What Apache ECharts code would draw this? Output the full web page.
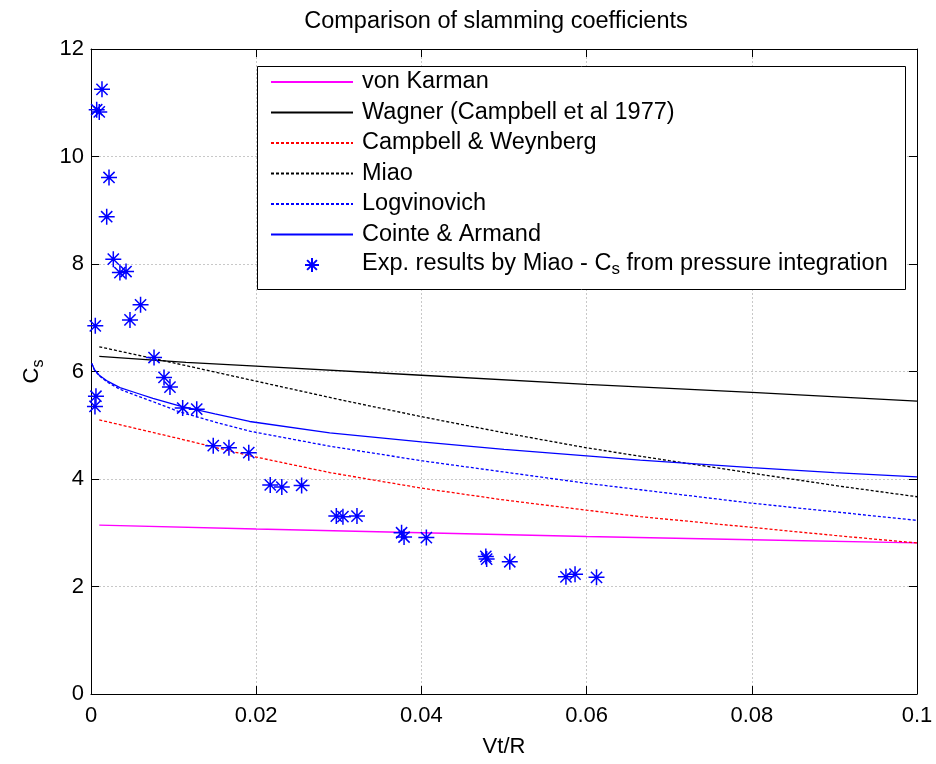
<!DOCTYPE html>
<html>
<head>
<meta charset="utf-8">
<script src="https://cdn.jsdelivr.net/npm/echarts@6/dist/echarts.min.js"></script>
<style>
html,body{margin:0;padding:0;background:#fff;}
#chart{width:936px;height:764px;}
</style>
</head>
<body>
<div id="chart"></div>
<script>
// ---- data ----
var titleText = 'Comparison of slamming coefficients';
var xTicks = [0, 0.02, 0.04, 0.06, 0.08, 0.1];
var yTicks = [0, 2, 4, 6, 8, 10, 12];

var karmanX = [0.001, 0.02, 0.04, 0.06, 0.08, 0.1];
var karmanY = [3.14, 3.07, 3.00, 2.93, 2.87, 2.81];

var wagnerX = [0.001, 0.0115, 0.02, 0.04, 0.06, 0.08, 0.1];
var wagnerY = [6.28, 6.17, 6.10, 5.93, 5.76, 5.61, 5.45];

var cwX = [0.001, 0.0107, 0.0193, 0.0289, 0.04, 0.05, 0.06, 0.0665, 0.08, 0.09, 0.1];
var cwY = [5.10, 4.75, 4.43, 4.12, 3.83, 3.61, 3.42, 3.30, 3.10, 2.95, 2.81];

var miaoX = [0.001, 0.01, 0.02, 0.03, 0.04, 0.05, 0.06, 0.07, 0.08, 0.09, 0.1];
var miaoY = [6.46, 6.16, 5.82, 5.48, 5.16, 4.86, 4.58, 4.34, 4.11, 3.88, 3.67];

var logvX = [0.0001, 0.0004, 0.001, 0.002, 0.0035, 0.0055, 0.0075, 0.0107, 0.015, 0.0192, 0.0289, 0.04, 0.05, 0.06, 0.0665, 0.08, 0.09, 0.1];
var logvY = [6.15, 6.03, 5.92, 5.80, 5.67, 5.55, 5.44, 5.25, 5.06, 4.89, 4.61, 4.34, 4.13, 3.92, 3.80, 3.55, 3.39, 3.23];

var cointeX = [0.0001, 0.0004, 0.001, 0.002, 0.0035, 0.0055, 0.0075, 0.0107, 0.015, 0.0192, 0.0289, 0.04, 0.05, 0.06, 0.0665, 0.08, 0.09, 0.1];
var cointeY = [6.15, 6.04, 5.93, 5.82, 5.70, 5.60, 5.50, 5.36, 5.21, 5.07, 4.86, 4.69, 4.55, 4.43, 4.35, 4.21, 4.12, 4.04];

var expX = [0.00069, 0.0010, 0.00133, 0.00218, 0.0019, 0.0027, 0.0035, 0.00424, 0.00052, 0.00472, 0.0060,
            0.00763, 0.00884, 0.00956, 0.0006, 0.00048, 0.0111, 0.0128, 0.0148, 0.0167, 0.0191,
            0.0217, 0.0231, 0.0255, 0.0297, 0.0305, 0.0322, 0.0376, 0.0379, 0.0406,
            0.0478, 0.0479, 0.0507, 0.0575, 0.0586, 0.0612];
var expY = [10.87, 10.83, 11.25, 9.61, 8.88, 8.09, 7.84, 7.86, 6.85, 6.96, 7.24,
            6.26, 5.89, 5.71, 5.54, 5.35, 5.32, 5.30, 4.62, 4.58, 4.49,
            3.89, 3.85, 3.88, 3.31, 3.30, 3.31, 3.00, 2.92, 2.91,
            2.56, 2.51, 2.46, 2.18, 2.23, 2.17];

var names = ['von Karman', 'Wagner (Campbell et al 1977)', 'Campbell & Weynberg', 'Miao',
             'Logvinovich', 'Cointe & Armand', 'Exp. results by Miao - Cs from pressure integration'];

function pairs(xs, ys) { return xs.map(function (x, i) { return [x, ys[i]]; }); }

var FONT = 'Liberation Sans, Arial, Helvetica, sans-serif';
var AX = 22;   // axis text size
var TX = 23.5; // title / legend text size
var star = 'path://M0,10L20,10M10,0L10,20M3,3L17,17M3,17L17,3';

var chart = echarts.init(document.getElementById('chart'), null, {renderer: 'canvas'});

function lineSeries(name, xs, ys, color, dashed) {
  return {
    name: name, type: 'line', xAxisIndex: 0, yAxisIndex: 0,
    data: pairs(xs, ys), smooth: false,
    showSymbol: false, symbol: 'none', animation: false,
    lineStyle: {color: color, width: 1.3, type: dashed ? [3, 2] : 'solid'},
    itemStyle: {color: color}, z: 3
  };
}

var commonAxis = {
  axisLine: {show: true, onZero: false, lineStyle: {color: '#000', width: 1}},
  axisTick: {show: true, inside: true, length: 8, lineStyle: {color: '#000'}},
};

var option = {
  backgroundColor: '#fff',
  animation: false,
  title: {
    text: titleText, left: 491, top: 5, textAlign: 'center',
    textStyle: {fontFamily: FONT, fontSize: TX, fontWeight: 'normal', color: '#000'}
  },
  grid: {left: 91, right: 19, top: 49, bottom: 70, containLabel: false},
  xAxis: [
    Object.assign({}, commonAxis, {
      type: 'value', min: 0, max: 0.1, interval: 0.02, position: 'bottom',
      name: 'Vt/R', nameLocation: 'middle', nameGap: 42,
      nameTextStyle: {fontFamily: FONT, fontSize: AX, color: '#000'},
      axisLabel: {fontFamily: FONT, fontSize: AX, color: '#000', margin: 11,
        formatter: function (v) { return String(+v.toFixed(2)); }},
      splitLine: {show: true, lineStyle: {color: '#c8c8c8', type: [2, 2], width: 1}}
    }),
    Object.assign({}, commonAxis, {
      type: 'value', min: 0, max: 0.1, interval: 0.02, position: 'top',
      axisLabel: {show: false}, splitLine: {show: false}
    })
  ],
  yAxis: [
    Object.assign({}, commonAxis, {
      type: 'value', min: 0, max: 12, interval: 2, position: 'left',
      name: '{c|C}{s|s}', nameLocation: 'middle', nameGap: 44, nameRotate: 90,
      nameTextStyle: {fontFamily: FONT, fontSize: AX, color: '#000',
        rich: {c: {fontFamily: FONT, fontSize: AX, color: '#000', lineHeight: 26, verticalAlign: 'top', padding: [0, 0, 6, 0]},
               s: {fontFamily: FONT, fontSize: 16, color: '#000', verticalAlign: 'bottom'}}},
      axisLabel: {fontFamily: FONT, fontSize: AX, color: '#000', margin: 7},
      splitLine: {show: true, lineStyle: {color: '#c8c8c8', type: [2, 2], width: 1}}
    }),
    Object.assign({}, commonAxis, {
      type: 'value', min: 0, max: 12, interval: 2, position: 'right',
      axisLabel: {show: false}, splitLine: {show: false}
    })
  ],
  graphic: [{
    type: 'rect', left: 257, top: 66, z: 50,
    shape: {width: 648, height: 223},
    style: {fill: '#fff', stroke: '#000', lineWidth: 1}
  }],
  legend: {
    orient: 'vertical', left: 265, top: 64, z: 60, padding: 5,
    itemWidth: 82, itemHeight: 14, itemGap: 4.5,
    data: names.map(function (n, i) {
      return i === 6 ? {name: n, icon: star} : {name: n, itemStyle: {opacity: 0}};
    }),
    formatter: function (n) {
      if (n === names[6]) return '{t|Exp. results by Miao - C}{s|s}{t| from pressure integration}';
      return n;
    },
    textStyle: {fontFamily: FONT, fontSize: TX, color: '#000', lineHeight: 26, padding: [0, 0, 0, 4],
      rich: {t: {fontFamily: FONT, fontSize: TX, color: '#000', lineHeight: 26, verticalAlign: 'top', padding: [0, 0, 6, 0]},
             s: {fontFamily: FONT, fontSize: 17, color: '#000', verticalAlign: 'bottom'}}},
    selectedMode: false
  },
  series: [
    lineSeries(names[0], karmanX, karmanY, '#ff00ff', false),
    lineSeries(names[1], wagnerX, wagnerY, '#000000', false),
    lineSeries(names[2], cwX, cwY, '#ff0000', true),
    lineSeries(names[3], miaoX, miaoY, '#000000', true),
    lineSeries(names[4], logvX, logvY, '#0000ff', true),
    lineSeries(names[5], cointeX, cointeY, '#0000ff', false),
    {
      name: names[6], type: 'scatter', data: pairs(expX, expY),
      symbol: star, symbolSize: 16, clip: false, z: 5,
      itemStyle: {color: 'rgba(0,0,0,0)', borderColor: '#0000ff', borderWidth: 1.5, opacity: 1}
    }
  ]
};
chart.setOption(option);
</script>
</body>
</html>
